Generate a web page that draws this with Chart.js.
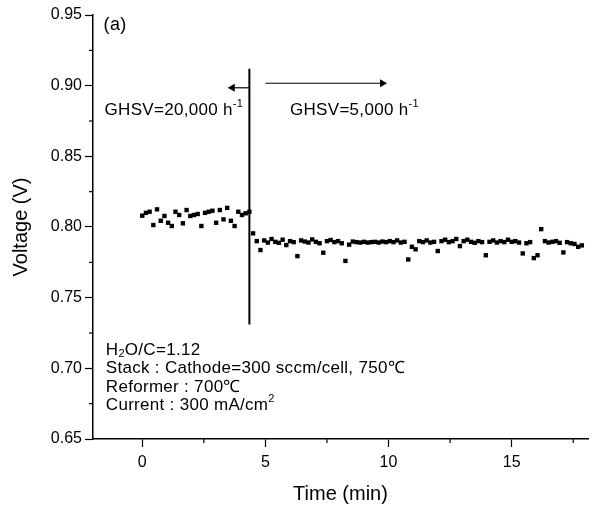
<!DOCTYPE html>
<html>
<head>
<meta charset="utf-8">
<script src="https://cdn.jsdelivr.net/npm/chart.js@4/dist/chart.umd.min.js"></script>
<style>
  body { margin: 0; background: #fff; }
  #wrap { width: 595px; height: 509px; }
</style>
</head>
<body>
<div id="wrap"><canvas id="voltage-chart"></canvas></div>
<script>
// measured cell voltage vs time (GHSV switched at ~4.35 min)
var timeMin = [
  0.00, 0.15, 0.30, 0.45, 0.60, 0.75, 0.90, 1.05, 1.20, 1.35,
  1.50, 1.65, 1.80, 1.95, 2.10, 2.25, 2.40, 2.55, 2.70, 2.85,
  3.00, 3.15, 3.30, 3.45, 3.60, 3.75, 3.90, 4.05, 4.20, 4.35,
  4.50, 4.65, 4.80, 4.95, 5.10, 5.25, 5.40, 5.55, 5.70, 5.85,
  6.00, 6.15, 6.30, 6.45, 6.60, 6.75, 6.90, 7.05, 7.20, 7.35,
  7.50, 7.65, 7.80, 7.95, 8.10, 8.25, 8.40, 8.55, 8.70, 8.85,
  9.00, 9.15, 9.30, 9.45, 9.60, 9.75, 9.90, 10.05, 10.20, 10.35,
  10.50, 10.65, 10.80, 10.95, 11.10, 11.25, 11.40, 11.55, 11.70, 11.85,
  12.00, 12.15, 12.30, 12.45, 12.60, 12.75, 12.90, 13.05, 13.20, 13.35,
  13.50, 13.65, 13.80, 13.95, 14.10, 14.25, 14.40, 14.55, 14.70, 14.85,
  15.00, 15.15, 15.30, 15.45, 15.60, 15.75, 15.90, 16.05, 16.20, 16.35,
  16.50, 16.65, 16.80, 16.95, 17.10, 17.25, 17.40, 17.55, 17.70, 17.85
];
var voltage = [
  0.8080, 0.8100, 0.8108, 0.8014, 0.8125, 0.8044, 0.8078, 0.8030, 0.8007, 0.8108,
  0.8085, 0.8026, 0.8120, 0.8078, 0.8085, 0.8092, 0.8007, 0.8100, 0.8108, 0.8115,
  0.8030, 0.8120, 0.8054, 0.8135, 0.8044, 0.8007, 0.8108, 0.8085, 0.8097, 0.8108,
  0.7955, 0.7900, 0.7837, 0.7905, 0.7890, 0.7915, 0.7895, 0.7888, 0.7910, 0.7872,
  0.7900, 0.7893, 0.7794, 0.7905, 0.7897, 0.7890, 0.7912, 0.7895, 0.7885, 0.7818,
  0.7900, 0.7908, 0.7893, 0.7900, 0.7885, 0.7760, 0.7875, 0.7897, 0.7893, 0.7890,
  0.7895, 0.7890, 0.7893, 0.7895, 0.7890, 0.7897, 0.7893, 0.7900, 0.7893, 0.7905,
  0.7890, 0.7895, 0.7770, 0.7860, 0.7842, 0.7900, 0.7893, 0.7905, 0.7890, 0.7895,
  0.7830, 0.7900, 0.7910, 0.7893, 0.7900, 0.7915, 0.7865, 0.7900, 0.7910, 0.7895,
  0.7888, 0.7900, 0.7893, 0.7800, 0.7895, 0.7905, 0.7890, 0.7900, 0.7893, 0.7910,
  0.7895, 0.7900, 0.7890, 0.7813, 0.7885, 0.7893, 0.7780, 0.7800, 0.7985, 0.7900,
  0.7890, 0.7895, 0.7900, 0.7888, 0.7820, 0.7893, 0.7885, 0.7880, 0.7860, 0.7870
];

// GHSV switch marker and arrows
var switchTime = [4.35, 4.35];
var switchVoltage = [0.731, 0.912];
var arrowLeftTime = [4.35, 3.66];
var arrowLeftVoltage = [0.8985, 0.8985];
var arrowRightTime = [5.0, 9.75];
var arrowRightVoltage = [0.9017, 0.9017];

var xTicks = [0, 5, 10, 15];
var xMinorTicks = [2.5, 7.5, 12.5, 17.5];
var yTicks = [0.65, 0.70, 0.75, 0.80, 0.85, 0.90, 0.95];
var yMinorTicks = [0.675, 0.725, 0.775, 0.825, 0.875, 0.925];

var FONT = "'Liberation Sans', Arial, Helvetica, sans-serif";

function toPoints(xs, ys) {
    return xs.map(function(x, i) { return {x: x, y: ys[i]}; });
}

// draws text with sub/superscript pieces: parts = [[text, 'sup'|'sub'|null], ...]
function drawRich(ctx, parts, x, y, size) {
    parts.forEach(function(p) {
        var small = p[1] ? size * 0.65 : size;
        var dy = p[1] === 'sup' ? -size * 0.38 : (p[1] === 'sub' ? size * 0.25 : 0);
        ctx.font = small + 'px ' + FONT;
        ctx.fillText(p[0], x, y + dy);
        x += ctx.measureText(p[0]).width;
    });
}

var minorTicksPlugin = {
    id: 'minorTicks',
    afterDraw: function(chart) {
        var ctx = chart.ctx, area = chart.chartArea;
        var xs = chart.scales.x, ys = chart.scales.y;
        ctx.save();
        ctx.strokeStyle = '#000';
        ctx.lineWidth = 1.2;
        xMinorTicks.forEach(function(v) {
            var px = xs.getPixelForValue(v);
            ctx.beginPath(); ctx.moveTo(px, area.bottom); ctx.lineTo(px, area.bottom + 4); ctx.stroke();
        });
        yMinorTicks.forEach(function(v) {
            var py = ys.getPixelForValue(v);
            ctx.beginPath(); ctx.moveTo(area.left, py); ctx.lineTo(area.left - 4, py); ctx.stroke();
        });
        ctx.restore();
    }
};

var labelsPlugin = {
    id: 'labels',
    afterDatasetsDraw: function(chart) {
        var ctx = chart.ctx;
        var xs = chart.scales.x, ys = chart.scales.y;
        function px(t) { return xs.getPixelForValue(t); }
        function py(v) { return ys.getPixelForValue(v); }
        ctx.save();
        ctx.fillStyle = '#000';
        ctx.textBaseline = 'middle';
        ctx.textAlign = 'left';
        ctx.letterSpacing = '0.3px';
        drawRich(ctx, [['(a)', null]], px(-1.57), py(0.943), 18);
        drawRich(ctx, [['GHSV=20,000 h', null], ['-1', 'sup']], px(-1.53), py(0.8828), 17);
        drawRich(ctx, [['GHSV=5,000 h', null], ['-1', 'sup']], px(6.0), py(0.8828), 17);
        drawRich(ctx, [['H', null], ['2', 'sub'], ['O/C=1.12', null]], px(-1.48), py(0.7129), 17);
        drawRich(ctx, [['Stack : Cathode=300 sccm/cell, 750\u2103', null]], px(-1.48), py(0.7002), 17);
        drawRich(ctx, [['Reformer : 700\u2103', null]], px(-1.48), py(0.6868), 17);
        drawRich(ctx, [['Current : 300 mA/cm', null], ['2', 'sup']], px(-1.48), py(0.6740), 17);
        ctx.restore();
    }
};

var ctx = document.getElementById('voltage-chart').getContext('2d');
var voltageChart = new Chart(ctx, {
    type: 'scatter',
    data: {
        datasets: [{
            label: 'Voltage',
            data: toPoints(timeMin, voltage),
            pointStyle: 'rect',
            pointRadius: 3.1,
            pointHoverRadius: 3.1,
            backgroundColor: '#000',
            borderColor: '#000',
            borderWidth: 0
        }, {
            label: 'switch',
            type: 'line',
            data: toPoints(switchTime, switchVoltage),
            borderColor: '#000',
            borderWidth: 2,
            pointRadius: 0,
            fill: false
        }, {
            label: 'arrowLeft',
            type: 'line',
            data: toPoints(arrowLeftTime, arrowLeftVoltage),
            borderColor: '#000',
            borderWidth: 1.2,
            pointStyle: 'triangle',
            pointRadius: [0, 3.5],
            rotation: 270,
            backgroundColor: '#000',
            fill: false
        }, {
            label: 'arrowRight',
            type: 'line',
            data: toPoints(arrowRightTime, arrowRightVoltage),
            borderColor: '#000',
            borderWidth: 1.2,
            pointStyle: 'triangle',
            pointRadius: [0, 3.5],
            rotation: 90,
            backgroundColor: '#000',
            fill: false
        }]
    },
    options: {
        responsive: true,
        maintainAspectRatio: false,
        animation: false,
        events: [],
        layout: { padding: { top: 15, right: 7, left: 0, bottom: 0 } },
        plugins: {
            legend: { display: false },
            tooltip: { enabled: false }
        },
        scales: {
            x: {
                type: 'linear',
                min: -2,
                max: 18.1,
                afterBuildTicks: function(scale) {
                    scale.ticks = xTicks.map(function(v) { return {value: v}; });
                },
                afterFit: function(scale) { scale.height = 70; },
                ticks: {
                    color: '#000',
                    padding: 6,
                    autoSkip: false,
                    maxRotation: 0,
                    font: { family: FONT, size: 16 },
                    callback: function(v) { return v; }
                },
                grid: {
                    drawOnChartArea: false,
                    tickLength: 8,
                    tickColor: '#000',
                    tickWidth: 1.2
                },
                border: { display: true, color: '#000', width: 1.5 },
                title: {
                    display: true,
                    text: 'Time (min)',
                    color: '#000',
                    font: { family: FONT, size: 20 },
                    padding: { top: 0, bottom: 3 }
                }
            },
            y: {
                type: 'linear',
                min: 0.65,
                max: 0.95,
                afterBuildTicks: function(scale) {
                    scale.ticks = yTicks.map(function(v) { return {value: v}; });
                },
                afterFit: function(scale) { scale.width = 93; },
                ticks: {
                    color: '#000',
                    padding: 3,
                    autoSkip: false,
                    font: { family: FONT, size: 16 },
                    callback: function(v) { return Number(v).toFixed(2); }
                },
                grid: {
                    drawOnChartArea: false,
                    tickLength: 8,
                    tickColor: '#000',
                    tickWidth: 1.2
                },
                border: { display: true, color: '#000', width: 1.5 },
                title: {
                    display: true,
                    text: 'Voltage (V)',
                    color: '#000',
                    font: { family: FONT, size: 20 },
                    padding: { top: 9, bottom: 0 }
                }
            }
        }
    },
    plugins: [minorTicksPlugin, labelsPlugin]
});
</script>
</body>
</html>
